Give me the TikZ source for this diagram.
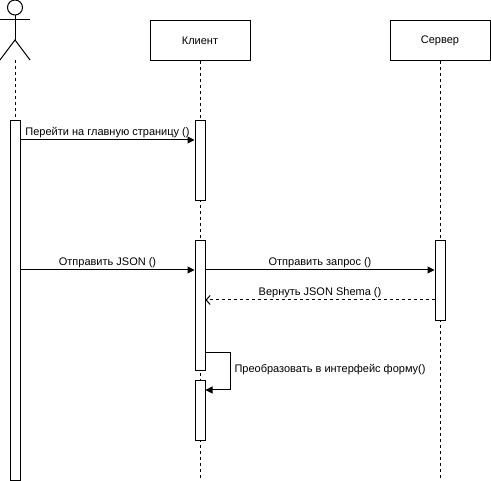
\documentclass[tikz,border=0pt]{standalone}
\usepackage{fontspec}
\setmainfont{Liberation Sans}
\usetikzlibrary{arrows.meta}
\begin{document}
\begin{tikzpicture}[x=1pt, y=-1pt, line width=1pt,
  every node/.style={font=\fontsize{11}{13}\selectfont},
  headbox/.style={draw, rectangle, minimum width=100pt, minimum height=40pt, inner sep=0pt, anchor=north},
  actbar/.style={draw, fill=white, rectangle, minimum width=10pt, inner sep=0pt, anchor=north},
  lifeline/.style={dash pattern=on 3pt off 3pt},
  callmsg/.style={-{Triangle[length=7pt,width=7pt]}},
  retmsg/.style={dash pattern=on 3pt off 3pt, -{Straight Barb[length=4pt,width=9pt]}},
  msglabel/.style={above, inner sep=2pt}]
\useasboundingbox (0,0) rectangle (491,481);

% user actor
\node[draw, circle, minimum size=15pt, inner sep=0pt] (userhead) at (15,7.5) {};
\coordinate (userhip) at (15,40);
\coordinate (userfoot) at (15,60);
\draw (userhead.south) -- (userhip);
\draw (0,20) -- (30,20);
\draw (0,60) -- (userhip) -- (30,60);

% participant heads
\node[headbox] (client) at (200,20) {Клиент};
\node[headbox] (server) at (440,20) {Сервер};

% lifelines
\coordinate (clientend) at (200,478);
\coordinate (serverend) at (440,478);
\draw[lifeline] (userfoot) -- (15,120);
\draw[lifeline] (client.south) -- (clientend);
\draw[lifeline] (server.south) -- (serverend);

% activation bars
\node[actbar, minimum height=360pt] (ua) at (15,120) {};
\node[actbar, minimum height=80pt] (ca1) at (200,120) {};
\node[actbar, minimum height=130pt] (ca2) at (200,240) {};
\node[actbar, minimum height=60pt] (ca3) at (200,380) {};
\node[actbar, minimum height=80pt] (sa1) at (440,240) {};

% messages
\draw[callmsg] (ua.east |- 0,140) -- (ca1.west |- 0,140)
  node[msglabel, midway] {Перейти на главную страницу ()};
\draw[callmsg] (ua.east |- 0,270) -- (ca2.west |- 0,270)
  node[msglabel, midway] {Отправить JSON ()};
\draw[callmsg] (ca2.east |- 0,270) -- (sa1.west |- 0,270)
  node[msglabel, midway] {Отправить запрос ()};
\draw[retmsg] (sa1.west |- 0,300) -- (ca2.east |- 0,300)
  node[msglabel, midway] {Вернуть JSON Shema ()};

% self call
\coordinate (selfturn) at (230,390);
\draw[callmsg] (ca2.east |- 0,353) -| (selfturn) -- (ca3.east |- selfturn);
\node[anchor=west, inner sep=0pt] (selflabel) at (234,370) {Преобразовать в интерфейс форму()};
\end{tikzpicture}
\end{document}
